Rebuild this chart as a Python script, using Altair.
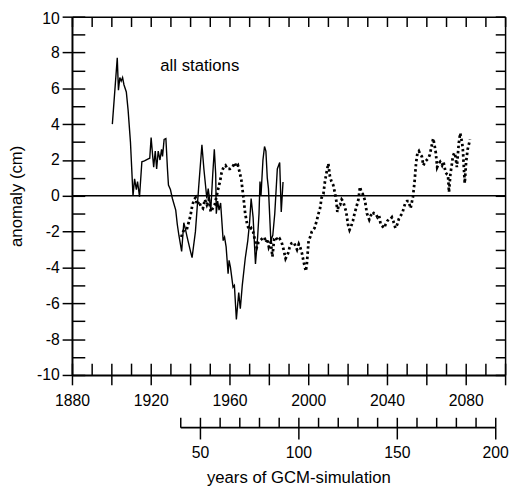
import altair as alt
import pandas as pd

FONT = "Liberation Sans"

# observed sea-level anomaly (solid line), all stations
obs_year = [1900.5, 1903.0, 1903.6, 1904.3, 1905.0, 1905.7, 1906.4, 1907.6, 1908.5, 1909.7,
            1911.0, 1911.8, 1912.7, 1913.3, 1914.3, 1915.5, 1916.8, 1918.5, 1919.5, 1920.2,
            1921.0, 1921.5, 1922.3, 1923.0, 1923.8, 1924.7, 1925.5, 1926.0, 1926.8, 1927.7,
            1928.5, 1929.0, 1930.0, 1931.0, 1932.7, 1933.5, 1934.3, 1935.7, 1936.8, 1937.7,
            1938.5, 1940.2, 1941.0, 1942.7, 1944.3, 1946.0, 1947.0, 1948.5, 1949.2, 1950.5,
            1951.5, 1952.3, 1953.0, 1953.3, 1954.0, 1954.7, 1955.5, 1956.8, 1957.5, 1958.3,
            1959.3, 1959.8, 1960.5, 1961.8, 1962.5, 1963.5, 1964.7, 1965.5, 1966.5, 1968.0,
            1969.3, 1970.2, 1971.0, 1972.0, 1973.2, 1974.3, 1975.0, 1975.5, 1976.0, 1977.0,
            1977.8, 1978.5, 1979.2, 1979.8, 1981.0, 1982.0, 1983.0, 1984.3, 1985.5, 1986.3,
            1987.2]
obs_anom = [4.0, 7.7, 5.9, 6.6, 6.4, 6.6, 6.2, 5.8, 4.8, 3.0,
            0.0, 0.95, 0.35, 0.8, -0.05, 1.9, 1.95, 2.05, 2.1, 3.25,
            2.2, 1.6, 2.5, 1.5, 2.5, 2.0, 2.6, 2.2, 3.15, 3.2,
            1.5, 0.6, 0.35, -0.15, -0.8, -1.6, -2.2, -3.1, -1.5, -1.9,
            -2.3, -3.1, -3.45, -2.0, 0.4, 2.85, 1.5, -0.15, 0.4, -0.8,
            1.2, 2.6, 1.2, -1.0, -0.3, -0.8, -0.4, -2.5, -2.3, -2.85,
            -4.35, -3.6, -4.0, -5.1, -5.0, -6.9, -5.4, -6.3, -5.0, -3.5,
            -2.5, -1.5, -0.15, -1.2, -3.8, -2.3, -1.0, 0.8, 0.0, 2.0,
            2.75, 2.5, 1.0, 0.4, -2.5, -2.2, -1.0, 1.5, 1.86, -0.9,
            0.77]

# GCM simulation (dotted line)
sim_year = [1935.5, 1936.5, 1937.5, 1938.5, 1939.5, 1940.2, 1941.0, 1942.0, 1942.8, 1943.5,
            1944.5, 1945.5, 1946.5, 1947.5, 1948.5, 1949.5, 1950.5, 1951.5, 1952.5, 1953.5,
            1954.5, 1955.2, 1956.0, 1957.0, 1958.0, 1959.0, 1960.2, 1961.5, 1962.7, 1963.5,
            1964.3, 1965.2, 1966.0, 1967.0, 1968.0, 1969.0, 1970.0, 1971.0, 1972.0, 1973.0,
            1973.8, 1974.7, 1975.5, 1976.5, 1977.7, 1978.5, 1979.3, 1980.0, 1981.0, 1981.8,
            1982.7, 1983.5, 1984.5, 1985.5, 1986.5, 1987.5, 1988.5, 1989.8, 1990.5, 1991.5,
            1992.7, 1993.5, 1994.3, 1995.2, 1996.0, 1996.8, 1997.7, 1998.8, 1999.3, 2000.2,
            2001.0, 2001.8, 2003.2, 2004.3, 2005.2, 2006.0, 2006.8, 2007.7, 2008.5, 2009.3,
            2010.2, 2011.0, 2011.8, 2012.7, 2013.5, 2014.3, 2014.8, 2015.5, 2016.2, 2017.0,
            2017.7, 2018.5, 2019.3, 2020.2, 2021.0, 2021.8, 2022.7, 2023.5, 2024.3, 2025.5,
            2026.3, 2027.0, 2027.7, 2028.8, 2029.8, 2031.0, 2031.8, 2032.7, 2033.5, 2034.3,
            2035.2, 2036.0, 2036.8, 2037.7, 2038.5, 2039.3, 2040.2, 2041.0, 2041.8, 2042.5,
            2043.2, 2044.3, 2045.2, 2046.0, 2047.0, 2047.7, 2048.5, 2049.3, 2050.2, 2051.0,
            2052.0, 2053.2, 2054.0, 2054.8, 2055.5, 2056.2, 2057.0, 2057.7, 2058.5, 2059.3,
            2060.2, 2061.0, 2061.8, 2062.7, 2063.5, 2064.2, 2064.8, 2065.5, 2066.3, 2067.0,
            2068.0, 2068.7, 2069.8, 2070.5, 2071.0, 2071.5, 2072.2, 2073.0, 2073.5, 2074.2,
            2074.8, 2075.5, 2076.0, 2076.5, 2077.2, 2078.2, 2078.6, 2079.0, 2079.5, 2080.2,
            2081.0, 2082.2]
sim_anom = [-2.3, -2.0, -1.8, -1.8, -1.4, -1.1, -0.6, -0.2, -0.1, -0.5,
            -0.3, -0.6, -0.7, -0.2, -0.5, -0.2, -0.9, -0.7, -0.5, 0.0,
            0.5, 0.8, 1.3, 1.6, 1.7, 1.5, 1.5, 1.6, 1.85, 1.6,
            1.7, 1.3, 0.9, 0.0, -1.0, -1.6, -1.9, -1.8, -2.0, -2.5,
            -2.9, -2.6, -2.5, -2.4, -2.3, -2.6, -2.4, -2.85, -2.6, -3.4,
            -2.4, -2.3, -2.5, -2.4, -2.6, -3.0, -3.5, -3.2, -2.9, -2.65,
            -2.6, -2.8, -3.0, -2.7, -2.9, -3.2, -3.7, -4.2, -3.8, -2.5,
            -2.3, -2.0, -1.8, -1.4, -1.0, -0.7, -0.1, 0.1, 0.8, 1.3,
            1.8, 1.1, 0.8, 0.6, 0.2, -0.3, -0.9, -0.5, -0.5, -0.2,
            -0.3, -0.6, -0.9, -1.6, -1.9, -1.7, -1.4, -1.0, -0.7, -0.2,
            0.5, 0.2, 0.1, -0.25, -0.97, -1.33, -1.1, -0.9, -1.0, -1.0,
            -1.2, -1.1, -1.6, -1.7, -1.8, -1.6, -1.4, -1.3, -1.3, -1.2,
            -1.4, -1.8, -1.6, -1.3, -1.1, -1.0, -0.7, -0.4, -0.3, -0.3,
            -0.7, -0.05, 0.77, 1.86, 2.4, 2.5, 2.3, 2.2, 1.7, 1.9,
            2.0, 2.1, 2.3, 2.8, 3.2, 2.8, 2.4, 1.6, 1.8, 1.9,
            1.7, 1.9, 1.3, 1.2, 1.15, 0.2, 1.2, 1.8, 2.2, 2.4,
            2.2, 1.6, 2.3, 2.95, 3.5, 2.95, 2.5, 1.7, 0.7, 1.9,
            2.6, 3.15]

# axis ticks / labels
x_ticks_minor = list(range(1880, 2101, 10))
x_ticks_major = list(range(1880, 2101, 20))
y_ticks_minor = list(range(-10, 11, 1))
y_ticks_major = list(range(-10, 11, 2))
gcm_ticks_minor = list(range(40, 201, 10))
gcm_ticks_major = [50, 100, 150, 200]
zero_span = [1880, 2100]
annotation = ["all stations"]

xcal = alt.Scale(domain=[1880, 2100], nice=False, zero=False)
yscale = alt.Scale(domain=[-10, 10], nice=False, zero=False)
xgcm = alt.Scale(domain=[40, 200], range=[110, 430], nice=False, zero=False)


def inward(n):
    return alt.ExprRef(expr=str(-n))


common = dict(grid=False, domainColor="black", tickColor="black", labelColor="black",
              titleColor="black", labelFont=FONT, titleFont=FONT, tickWidth=1.5,
              labelFlush=False, labelOverlap=False)

obs_df = pd.DataFrame({"year": obs_year, "anom": obs_anom})
sim_df = pd.DataFrame({"year": sim_year, "anom": sim_anom})
zero_df = pd.DataFrame({"x0": [zero_span[0]], "x1": [zero_span[1]], "y": [0]})
gcm_minor_df = pd.DataFrame({"gcm": gcm_ticks_minor})
gcm_major_df = pd.DataFrame({"gcm": gcm_ticks_major})
label_df = pd.DataFrame({"label": annotation})

solid = alt.Chart(obs_df).mark_line(color="black", strokeWidth=1.4).encode(
    x=alt.X("year:Q", scale=xcal,
            axis=alt.Axis(orient="bottom", values=x_ticks_minor, tickSize=inward(12),
                          labels=False, title=None, domainWidth=2, **common)),
    y=alt.Y("anom:Q", scale=yscale,
            axis=alt.Axis(orient="left", values=y_ticks_minor, tickSize=inward(13),
                          labels=False, title=None, domainWidth=2, **common)),
)

dotted = alt.Chart(sim_df).mark_line(color="black", strokeWidth=2.8,
                                     strokeDash=[2.5, 2.8], strokeCap="butt").encode(
    x=alt.X("year:Q", scale=xcal,
            axis=alt.Axis(orient="top", values=x_ticks_minor, tickSize=inward(10),
                          labels=False, title=None, domainWidth=1.5, **common)),
    y=alt.Y("anom:Q", scale=yscale,
            axis=alt.Axis(orient="right", values=y_ticks_minor, tickSize=inward(10),
                          labels=False, title=None, domainWidth=1.5, **common)),
)

zero = alt.Chart(zero_df).mark_rule(color="black", strokeWidth=1.5).encode(
    x=alt.X("x0:Q", scale=xcal,
            axis=alt.Axis(orient="bottom", values=x_ticks_major, tickSize=10, format="d",
                          labelExpr="datum.value % 40 == 0 && datum.value < 2100 ? datum.label : ''",
                          labelFontSize=16, labelPadding=8, domain=False, title=None, **common)),
    x2="x1:Q",
    y=alt.Y("y:Q", scale=yscale,
            axis=alt.Axis(orient="left", values=y_ticks_major, tickSize=10,
                          labelExpr="'' + datum.value", labelFontSize=16, labelPadding=3,
                          labelOffset={"condition": {"test": "datum.value == 10", "value": 2},
                                       "value": 0},
                          domain=False, title="anomaly (cm)", titleFontSize=17,
                          titleFontWeight="normal", titleX=-51, titleY=182, titleAngle=270,
                          titleBaseline="alphabetic", titleAlign="center", **common)),
)

gcm_minor = alt.Chart(gcm_minor_df).mark_point(opacity=0).encode(
    x=alt.X("gcm:Q", scale=xgcm,
            axis=alt.Axis(orient="bottom", offset=53, values=gcm_ticks_minor, tickSize=inward(10),
                          labels=False, title=None, domainWidth=2, **common)),
)

gcm_major = alt.Chart(gcm_major_df).mark_point(opacity=0).encode(
    x=alt.X("gcm:Q", scale=xgcm,
            axis=alt.Axis(orient="bottom", offset=53, values=gcm_ticks_major, tickSize=12,
                          format="d", labelFontSize=16, labelPadding=6, domain=False,
                          title="years of GCM-simulation", titleFontSize=17,
                          titleFontWeight="normal", titleX=230, titleY=43,
                          titleBaseline="top", titleAlign="center", **common)),
)

text = alt.Chart(label_df).mark_text(align="left", baseline="alphabetic", fontSize=17,
                                      font=FONT, color="black").encode(
    text="label:N", x=alt.value(89.7), y=alt.value(55.5))

chart = alt.layer(zero, solid, dotted, gcm_minor, gcm_major, text).properties(
    width=440, height=364,
    autosize=alt.AutoSizeParams(type="none"),
    padding={"left": 65, "top": 5, "right": 6, "bottom": 110},
    background="white",
).resolve_scale(x="independent").resolve_axis(x="independent", y="independent").configure_view(
    stroke=None
)

chart.save("out.html", embed_options={"renderer": "svg", "actions": False})
